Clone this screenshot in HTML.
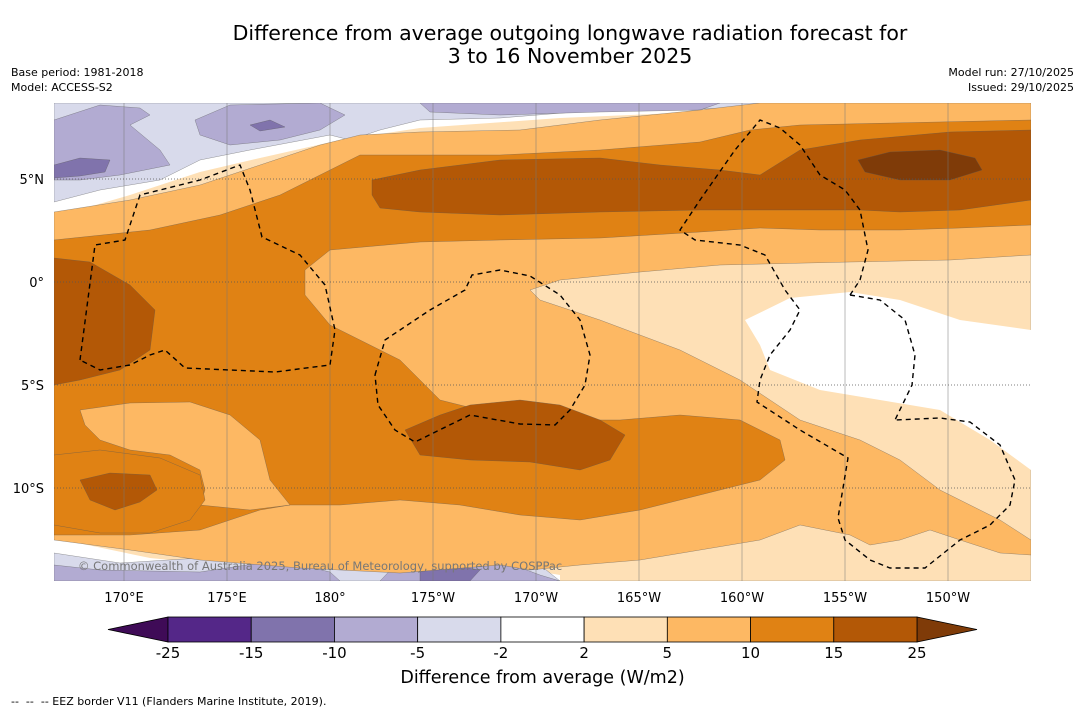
<!DOCTYPE html>
<html><head><meta charset="utf-8">
<style>
body{margin:0;background:#fff;font-family:"DejaVu Sans",sans-serif;}
#wrap{position:relative;width:1085px;height:713px;overflow:hidden;background:#fff;}
.t{position:absolute;white-space:nowrap;color:#000;font-family:"DejaVu Sans",sans-serif;}
</style></head><body>
<div id="wrap">
<div class="t" style="left:0;width:1140px;text-align:center;top:22px;font-size:20.5px;line-height:23px;">Difference from average outgoing longwave radiation forecast for<br>3 to 16 November 2025</div>
<div class="t" style="left:11px;top:65px;font-size:11px;line-height:15px;">Base period: 1981-2018<br>Model: ACCESS-S2</div>
<div class="t" style="right:11px;top:65px;font-size:11px;line-height:15px;text-align:right;">Model run: 27/10/2025<br>Issued: 29/10/2025</div>
<svg id="map" width="1085" height="713" style="position:absolute;left:0;top:0">
<defs><clipPath id="mc"><rect x="54" y="103" width="977" height="478"/></clipPath></defs>
<g id="fills" clip-path="url(#mc)"></g>
<g id="grid" clip-path="url(#mc)"></g>
<g id="eez" clip-path="url(#mc)"></g>
<g id="axes"></g>
<g id="cbar"></g>
</svg>
<div class="t" style="left:78px;top:559px;font-size:11.5px;color:#777;">© Commonwealth of Australia 2025, Bureau of Meteorology, supported by COSPPac</div>
<div class="t" style="left:0;width:1085px;text-align:center;top:668px;font-size:17.5px;">Difference from average (W/m2)</div>
<div class="t" style="left:11px;top:695px;font-size:11px;">--&nbsp; --&nbsp; -- EEZ border V11 (Flanders Marine Institute, 2019).</div>
</div>
<script>
const levels=[-25,-15,-10,-5,-2,2,5,10,15,25];
const colors=["#542788","#8073ac","#b2abd2","#d8daeb","#ffffff","#fee0b6","#fdb863","#e08214","#b35806"];
const lowColor="#3f0b57", highColor="#7f3b08";
const lonTicks=["170°E","175°E","180°","175°W","170°W","165°W","160°W","155°W","150°W"];
const lonVals=[170,175,180,185,190,195,200,205,210];
const latTicks=["5°N","0°","5°S","10°S"];
const latVals=[5,0,-5,-10];
const NS="http://www.w3.org/2000/svg";
const FF="DejaVu Sans, sans-serif";
const xL=lon=>124+(lon-170)*20.6;
const yL=lat=>282-lat*20.6;
function mk(tag,attrs,parent){const e=document.createElementNS(NS,tag);for(const k in attrs)e.setAttribute(k,attrs[k]);parent.appendChild(e);return e;}
const shapes=[
["#fee0b6","54,103 1031,103 1031,581 54,581"],
["#ffffff","54,103 800,103 780,103 700,112 560,118 420,128 340,140 260,158 200,172 130,195 54,217"],
["#ffffff","745,320 790,298 850,292 900,300 960,320 1031,330 1031,470 990,440 940,410 880,400 820,390 770,370 760,345"],
["#ffffff","54,538 150,558 250,568 330,575 400,573 500,565 560,575 560,581 54,581"],
["#d8daeb","54,103 775,103 760,108 600,110 500,118 420,120 380,130 350,140 330,135 250,150 200,160 160,180 100,190 54,202"],
["#d8daeb","54,553 120,563 200,558 280,548 360,553 420,548 480,553 540,565 560,581 54,581"],
["#b2abd2","54,120 100,105 140,108 150,115 130,125 160,150 170,165 120,175 80,180 54,180"],
["#b2abd2","195,120 230,105 320,103 345,115 320,130 280,140 230,145 200,135"],
["#b2abd2","420,103 720,103 700,110 600,112 500,115 430,112"],
["#b2abd2","54,565 100,570 200,572 280,560 330,572 340,581 54,581"],
["#b2abd2","400,560 450,553 500,560 540,575 560,581 380,581"],
["#8073ac","54,165 80,158 110,160 105,172 80,176 54,178"],
["#8073ac","250,125 270,120 285,127 260,131"],
["#8073ac","420,572 450,565 480,570 470,581 420,581"],
["#fdb863","54,212 130,200 200,185 260,165 320,145 360,135 420,132 520,130 600,120 700,110 760,103 1031,103 1031,255 950,260 850,262 720,265 640,272 560,280 530,290 540,300 600,320 680,350 740,380 800,420 860,440 900,460 940,490 1000,520 1031,540 1031,555 1000,553 960,540 930,530 900,540 870,545 850,535 800,525 760,540 700,550 640,560 580,565 530,570 500,565 400,573 300,568 200,560 130,550 54,540"],
["#e08214","54,240 150,230 220,215 280,195 330,170 360,155 500,155 600,150 700,142 750,130 800,125 1031,120 1031,225 960,228 900,230 820,230 760,228 700,232 600,238 500,240 420,242 330,250 305,270 305,295 330,325 360,340 400,360 440,400 500,415 560,420 620,420 680,415 740,420 780,440 785,460 760,480 700,495 640,510 580,520 520,515 460,505 400,500 340,505 290,505 260,510 200,530 130,535 54,535"],
["#fdb863","80,410 130,403 190,402 230,415 260,440 270,480 290,505 250,510 200,505 205,490 200,470 170,455 130,450 100,440 85,425"],
["#e08214","54,455 100,450 160,458 200,475 205,500 190,520 150,533 100,533 54,525"],
["#b35806","372,180 420,170 500,160 600,158 660,165 720,170 760,175 800,150 860,140 950,132 1031,130 1031,200 960,210 900,212 860,210 800,210 700,210 600,212 500,215 420,212 380,208 372,195"],
["#b35806","54,258 90,262 130,285 155,310 150,350 120,370 80,380 54,385"],
["#b35806","405,430 440,415 470,405 520,400 560,405 600,420 625,435 610,460 580,470 530,462 470,460 420,455"],
["#b35806","80,480 110,473 150,475 157,490 140,502 115,510 90,500"],
["#7f3b08","858,160 890,152 940,150 975,158 982,170 950,180 900,180 865,172"]
];
const fills=document.getElementById('fills');
shapes.forEach((s,i)=>{const p=mk('polygon',{points:s[1],fill:s[0],stroke:s[0]==="#ffffff"?"none":"#555","stroke-width":0.3},fills);

});
const grid=document.getElementById('grid');
lonVals.forEach(v=>{const l=mk('line',{x1:xL(v),x2:xL(v),y1:103,y2:581,stroke:"#777","stroke-width":0.5},grid);

});
latVals.forEach(v=>{const l=mk('line',{x1:54,x2:1031,y1:yL(v),y2:yL(v),stroke:"#555","stroke-width":0.7,"stroke-dasharray":"1,2"},grid);

});
const eezPaths=[
"80,360 95,245 125,240 140,195 200,180 240,165 250,190 262,237 300,255 325,285 335,330 330,365 275,372 185,368 165,350 150,355 130,365 100,370 80,360",
"375,375 385,340 430,310 465,290 472,275 500,270 530,276 560,295 580,320 590,355 585,385 570,410 555,425 520,424 470,415 415,442 395,430 378,405 375,375",
"850,295 860,280 868,250 860,210 845,190 820,175 800,145 780,128 760,120 735,150 700,200 680,230 695,240 740,245 765,255 785,290 800,310 790,330 770,355 760,380 757,402 800,430 848,458 838,518 845,540 870,560 890,568 925,568 960,540 990,525 1010,505 1015,480 1000,445 970,422 940,418 895,420",
"850,295 880,300 905,320 915,355 912,385 895,420"
];
const eez=document.getElementById('eez');
eezPaths.forEach(p=>{const e=mk('polyline',{points:p,fill:"none",stroke:"#000","stroke-width":1.4,"stroke-dasharray":"5,4"},eez);

});
const axes=document.getElementById('axes');
lonTicks.forEach((t,i)=>{const e=mk('text',{x:xL(lonVals[i]),y:602,"text-anchor":"middle","font-size":13,"font-family":FF},axes);e.textContent=t;

});
latTicks.forEach((t,i)=>{const e=mk('text',{x:44,y:yL(latVals[i])+5,"text-anchor":"end","font-size":13,"font-family":FF},axes);e.textContent=t;

});
const cb=document.getElementById('cbar');
const x0=168,x1=917,y0=617,y1=642,w=(x1-x0)/colors.length;
const lt=mk('polygon',{points:`108,629.5 ${x0},${y0} ${x0},${y1}`,fill:lowColor,stroke:"#000","stroke-width":0.8},cb);


const rt=mk('polygon',{points:`977,629.5 ${x1},${y0} ${x1},${y1}`,fill:highColor,stroke:"#000","stroke-width":0.8},cb);


colors.forEach((c,i)=>{const r=mk('rect',{x:x0+i*w,y:y0,width:w,height:y1-y0,fill:c,stroke:"#000","stroke-width":0.8},cb);

});
levels.forEach((v,i)=>{const e=mk('text',{x:x0+i*w,y:658,"text-anchor":"middle","font-size":15,"font-family":FF},cb);e.textContent=v;

});
</script>
</body></html>
